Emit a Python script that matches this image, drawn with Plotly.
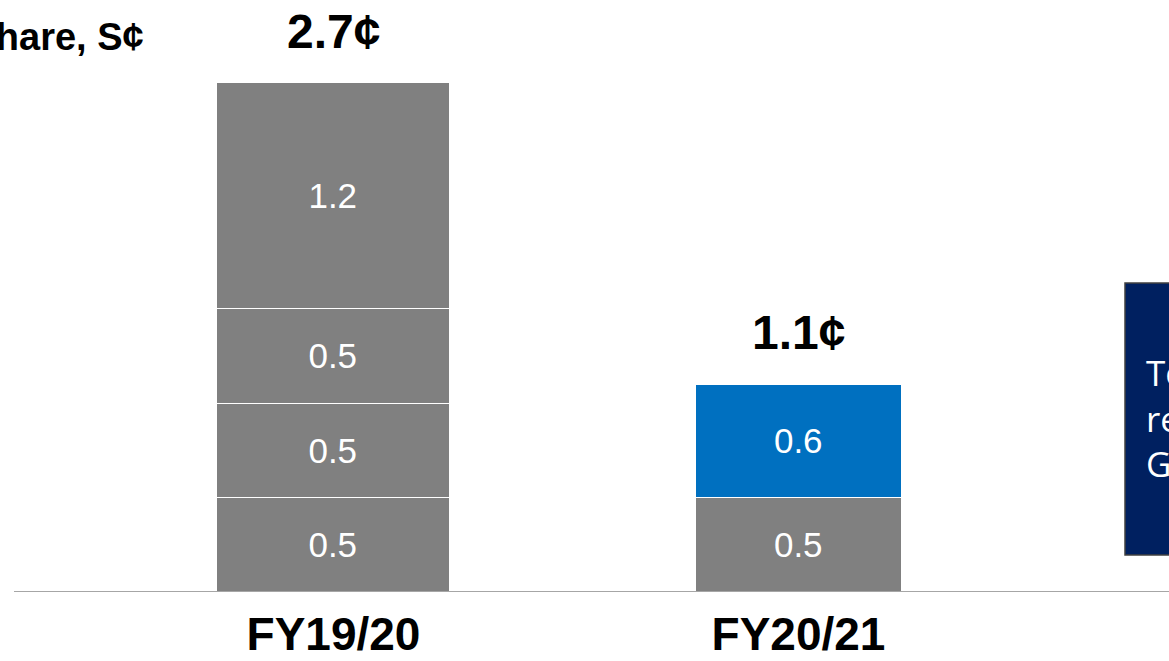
import plotly.graph_objects as go

# ---- data ----
categories = ["FY19/20", "FY20/21"]
seg1 = [0.5, 0.5]
seg2 = [0.5, 0.6]
seg3 = [0.5, None]
seg4 = [1.2, None]
totals = [2.7, 1.1]
total_labels = ["2.7¢", "1.1¢"]
title_text = "Dividend per share, S¢"
box_lines = ["To", "re", "G"]

# ---- style ----
GRAY = "#808080"
BLUE = "#0070C0"
NAVY = "#002060"
bar_widths = [0.501, 0.443]
seg_colors = [
    [GRAY, GRAY],
    [GRAY, BLUE],
    [GRAY, GRAY],
    [GRAY, GRAY],
]
FONT = "Liberation Sans, Arial, sans-serif"

W, H = 1169, 661
base_px = 592
px_per_unit = 188.5
x0_px, px_per_cat = 333.5, 465.0

fig = go.Figure()
for vals, cols in zip([seg1, seg2, seg3, seg4], seg_colors):
    fig.add_trace(go.Bar(
        x=categories, y=vals, width=bar_widths,
        marker=dict(color=cols, line=dict(color="white", width=1.5)),
        texttemplate="%{y:.1f}", textposition="inside",
        insidetextanchor="middle", textangle=0,
        textfont=dict(family=FONT, size=35, color="white"),
        hoverinfo="skip", showlegend=False,
    ))

# total labels above bars
for cat, tot, lab in zip(categories, totals, total_labels):
    fig.add_annotation(
        x=cat, y=tot, xref="x", yref="y", text=f"<b>{lab}</b>",
        showarrow=False, yanchor="middle", yshift=52,
        font=dict(family=FONT, size=48, color="black"),
    )

# title (partially off-canvas on the left)
fig.add_annotation(
    x=146 / W, y=(base_px - 37) / base_px, xref="paper", yref="paper",
    text=f"<b>{title_text}</b>", showarrow=False,
    xanchor="right", yanchor="middle",
    font=dict(family=FONT, size=38, color="black"),
)

# baseline
fig.add_shape(type="line", xref="paper", yref="y",
              x0=14 / W, x1=1.0, y0=0, y1=0,
              line=dict(color="#A6A6A6", width=2))

# navy box at right (partially off-canvas)
fig.add_shape(type="rect", xref="paper", yref="paper",
              x0=1125 / W, x1=1.1,
              y0=(base_px - 555) / base_px, y1=(base_px - 283) / base_px,
              fillcolor=NAVY, line=dict(color="#404040", width=1.5), layer="above")
fig.add_annotation(
    x=1144 / W, y=(base_px - 418) / base_px, xref="paper", yref="paper",
    text="<br>".join(box_lines), showarrow=False, align="left",
    xanchor="left", yanchor="middle",
    font=dict(family="Open Sans, sans-serif", size=35, color="white"),
)

fig.update_layout(
    width=W, height=H,
    margin=dict(l=0, r=0, t=0, b=H - base_px, autoexpand=False),
    paper_bgcolor="white", plot_bgcolor="white",
    barmode="stack", bargap=0,
    xaxis=dict(
        type="category",
        range=[-x0_px / px_per_cat, (W - x0_px) / px_per_cat],
        showgrid=False, zeroline=False, showline=False, ticks="",
        tickfont=dict(family=FONT, size=46, color="black"),
        ticklabelstandoff=11,
        tickvals=categories, ticktext=[f"<b>{c}</b>" for c in categories],
    ),
    yaxis=dict(
        range=[0, base_px / px_per_unit],
        showgrid=False, zeroline=False, showline=False,
        showticklabels=False, ticks="",
    ),
)

fig.write_html("out.html")
